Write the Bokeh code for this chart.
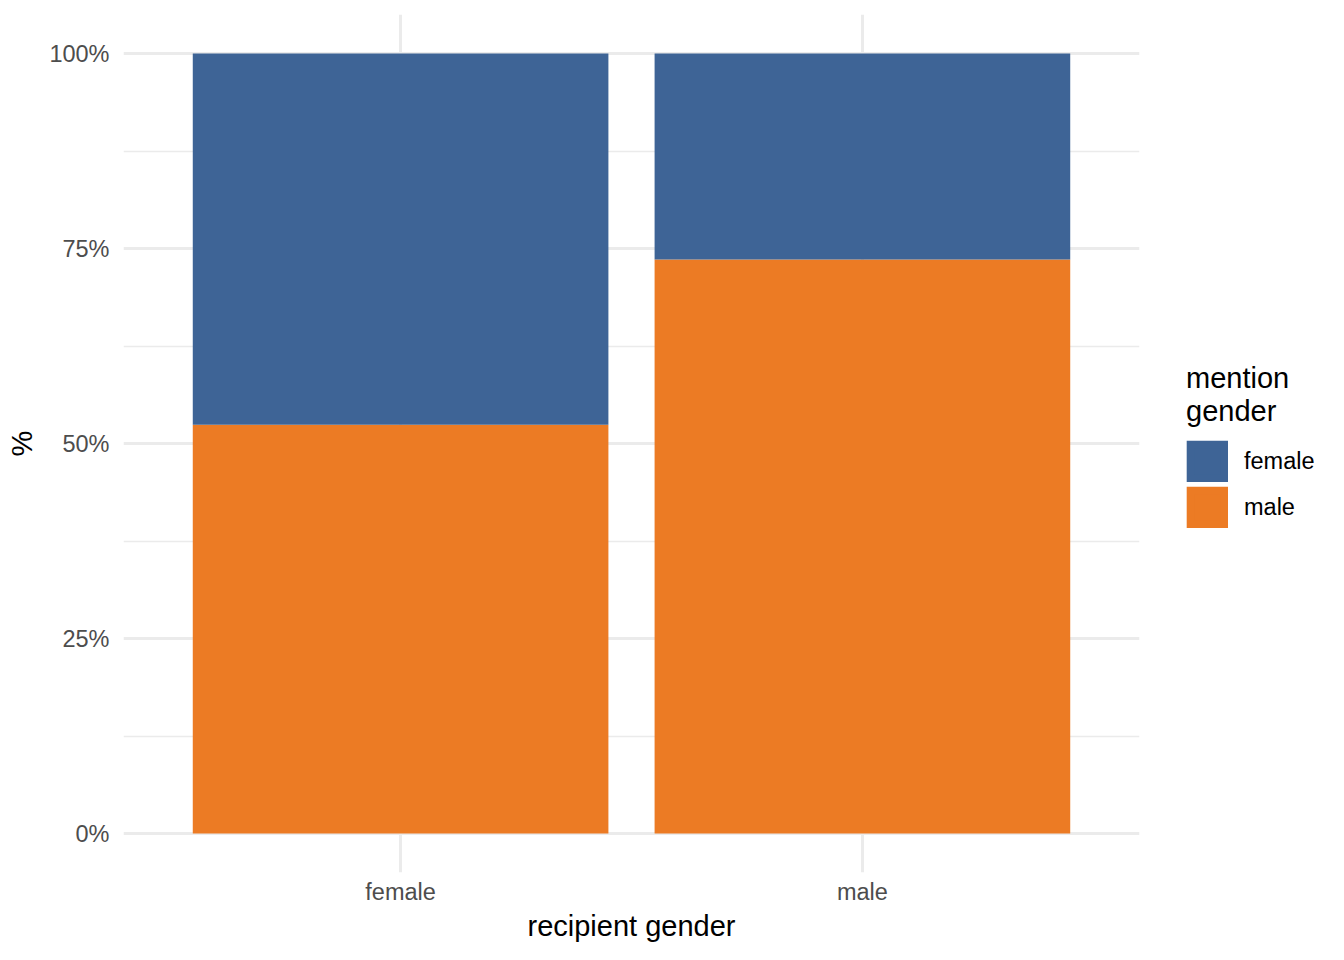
from bokeh.plotting import figure
from bokeh.layouts import row
from bokeh.models import (ColumnDataSource, FactorRange, Range1d, FixedTicker,
                          NumeralTickFormatter, Legend, LegendItem)
from bokeh.embed import file_html
from bokeh.resources import INLINE

# ---- data ----
recipient_gender = ["female", "male"]
mention_gender = ["female", "male"]
share_female_mention = [0.476, 0.264]
share_male_mention = [0.524, 0.736]
y_ticks = [0, 0.25, 0.5, 0.75, 1.0]
y_minor_ticks = [0.125, 0.375, 0.625, 0.875]
colors = {"female": "#3E6496", "male": "#EC7B24"}
legend_title = "mention\ngender"

source = ColumnDataSource(dict(
    recipient=recipient_gender,
    male=share_male_mention,
    female=share_female_mention,
))

FONT = "Liberation Sans"
H = 944

p = figure(
    width=1150, height=H,
    x_range=FactorRange(factors=recipient_gender, range_padding=0.1),
    y_range=Range1d(-0.05, 1.05),
    output_backend="svg", toolbar_location=None,
    min_border_left=123, min_border_right=11,
    min_border_top=14, min_border_bottom=72,
)
p.outline_line_color = None
p.background_fill_color = "white"
p.border_fill_color = "white"

p.vbar_stack(
    ["male", "female"], x="recipient", width=0.9, source=source,
    color=[colors["male"], colors["female"]], line_color=None,
)

# axes
p.yaxis.ticker = FixedTicker(ticks=y_ticks, minor_ticks=y_minor_ticks)
p.yaxis.formatter = NumeralTickFormatter(format="0%")
for ax in (p.xaxis[0], p.yaxis[0]):
    ax.axis_line_color = None
    ax.major_tick_line_color = None
    ax.minor_tick_line_color = None
    ax.major_tick_out = 0
    ax.major_tick_in = 0
    ax.minor_tick_out = 0
    ax.minor_tick_in = 0
    ax.major_label_text_font = FONT
    ax.major_label_text_font_size = "23.5px"
    ax.major_label_text_color = "#4D4D4D"
    ax.axis_label_text_font = FONT
    ax.axis_label_text_font_size = "29px"
    ax.axis_label_text_color = "black"
    ax.axis_label_text_font_style = "normal"

p.xaxis.axis_label = "recipient gender"
p.yaxis.axis_label = "%"
p.yaxis.major_label_standoff = 14
p.yaxis.axis_label_standoff = 8
p.xaxis.major_label_standoff = 6
p.xaxis.axis_label_standoff = 2

# grids
p.ygrid.grid_line_color = "#EBEBEB"
p.ygrid.grid_line_width = 3
p.ygrid.minor_grid_line_color = "#EBEBEB"
p.ygrid.minor_grid_line_width = 1.4
p.xgrid.grid_line_color = "#EBEBEB"
p.xgrid.grid_line_width = 3

# ---- legend panel (separate narrow figure to the right) ----
lp = figure(
    width=1328 - 1150, height=H,
    x_range=Range1d(0, 1), y_range=Range1d(0, 1),
    output_backend="svg", toolbar_location=None,
    min_border=0,
)
lp.axis.visible = False
lp.grid.visible = False
lp.outline_line_color = None
lp.background_fill_color = "white"
lp.border_fill_color = "white"

# legend proxies: one undrawable (NaN) row each, only used for the key swatch
items = []
for g in mention_gender:
    proxy = ColumnDataSource(dict(x=[float("nan")], top=[float("nan")]))
    r = lp.vbar(x="x", top="top", width=1, source=proxy,
                fill_color=colors[g], line_color=colors[g],
                line_width=8, line_join="miter")
    items.append(LegendItem(label=g, renderers=[r]))

legend = Legend(items=items, title=legend_title,
                location=(36, 344), orientation="vertical")
legend.title_text_font = FONT
legend.title_text_font_size = "29px"
legend.title_text_font_style = "normal"
legend.title_text_color = "black"
legend.title_standoff = 12
legend.label_text_font = FONT
legend.label_text_font_size = "23.5px"
legend.label_text_color = "black"
legend.glyph_width = 42
legend.glyph_height = 42
legend.label_height = 42
legend.spacing = 4
legend.label_standoff = 16
legend.border_line_color = None
legend.background_fill_alpha = 0
legend.padding = 0
legend.margin = 0
lp.add_layout(legend, "center")

layout = row(p, lp)
open("out.html", "w").write(file_html(layout, INLINE))
